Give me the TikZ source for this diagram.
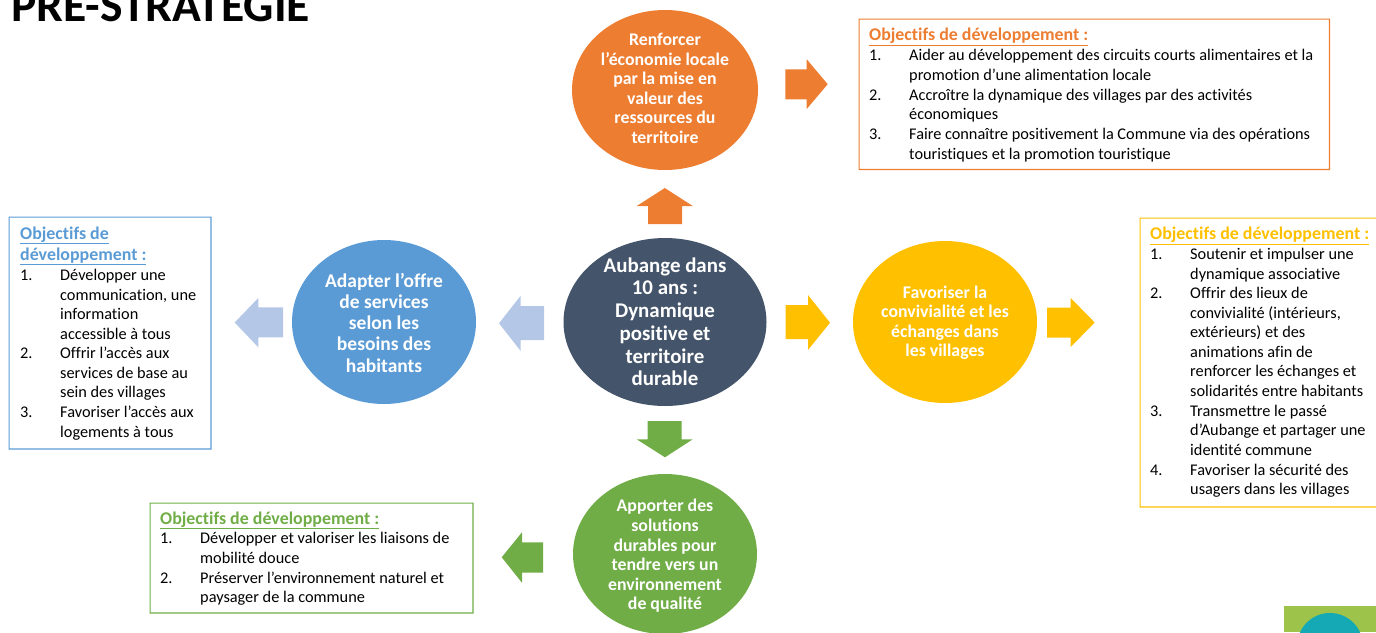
\documentclass[tikz,border=0pt]{standalone}
\usepackage{fontspec}
\setmainfont{Carlito}[Ligatures=NoCommon]
\definecolor{cOrange}{RGB}{237,125,49}
\definecolor{cBlue}{RGB}{91,155,213}
\definecolor{cLight}{HTML}{B4C7E7}
\definecolor{cYellow}{HTML}{FFC000}
\definecolor{cGreen}{HTML}{70AD47}
\definecolor{cDark}{HTML}{44546A}
\definecolor{cLogoG}{HTML}{9DC34A}
\definecolor{cLogoT}{HTML}{14A9B5}
\newcommand{\bodyfont}{\fontsize{16.3}{19.6}\selectfont}
\newcommand{\headfont}{\fontsize{17.9}{21}\selectfont\bfseries}
\newcommand{\ml}[1]{\begin{tabular}[t]{@{}l@{}}#1\end{tabular}}
\newcommand{\mc}[1]{\begin{tabular}{@{}c@{}}#1\end{tabular}}
\tikzset{
  x=1pt,y=-1pt,
  disc/.style={ellipse,inner sep=0pt},
  disctext/.style={inner sep=0pt,text=white,font=\fontsize{17.8}{19.6}\selectfont\bfseries},
  objframe/.style={fill=#1,even odd rule},
  objhead/.style={anchor=base west,inner sep=0pt,text=#1,font=\headfont},
  numlab/.style={anchor=base west,inner sep=0pt,font=\bodyfont},
  itemtext/.style={anchor=base west,inner sep=0pt,font=\bodyfont},
}
\usetikzlibrary{shapes.geometric}
\begin{document}
\begin{tikzpicture}
\useasboundingbox (0,0) rectangle (1376,632);
\clip (0,0) rectangle (1376,632);
\node[anchor=base west,inner sep=0pt,font=\fontsize{47.6}{48}\selectfont\bfseries] (title) at (11,21) {PRE-STRATEGIE};

% discs
\node[disc,fill=cOrange,minimum width=186pt,minimum height=160pt] (top) at (665,90) {};
\node[disctext] (topT) at (665,90.5) {\mc{Renforcer\\l’économie locale\\par la mise en\\valeur des\\ressources du\\territoire}};
\node[disc,fill=cDark,minimum width=203pt,minimum height=168pt] (center) at (665,322) {};
\node[disctext,font=\fontsize{20.9}{22.7}\selectfont\bfseries] (centerT) at (665,324.5) {\mc{Aubange dans\\10 ans :\\Dynamique\\positive et\\territoire\\durable}};
\node[disc,fill=cBlue,minimum width=184pt,minimum height=164pt] (left) at (384,322) {};
\node[disctext,font=\fontsize{19.5}{21.2}\selectfont\bfseries] (leftT) at (384,325.5) {\mc{Adapter l’offre\\de services\\selon les\\besoins des\\habitants}};
\node[disc,fill=cYellow,minimum width=184pt,minimum height=162pt] (right) at (945,322) {};
\node[disctext] (rightT) at (945,323.5) {\mc{Favoriser la\\convivialité et les\\échanges dans\\les villages}};
\node[disc,fill=cGreen,minimum width=184pt,minimum height=160pt] (bottom) at (665,554) {};
\node[disctext] (bottomT) at (665,557) {\mc{Apporter des\\solutions\\durables pour\\tendre vers un\\environnement\\de qualité}};

% block arrows
\fill[cOrange] (664.8,188) -- (692.7,206) -- (682,206) -- (682,224) -- (648,224) -- (648,206) -- (636.8,206) -- cycle;
\fill[cOrange] (827.7,84.2) -- (806.7,109) -- (806.7,99.3) -- (785.3,99.3) -- (785.3,69.3) -- (806.7,69.3) -- (806.7,59.3) -- cycle;
\fill[cLight] (499,323.3) -- (520.7,295.7) -- (520.7,306) -- (544,306) -- (544,340) -- (520.7,340) -- (520.7,351) -- cycle;
\fill[cLight] (234.7,322.5) -- (258.3,298) -- (258.3,307.3) -- (283,307.3) -- (283,337.3) -- (258.3,337.3) -- (258.3,347.3) -- cycle;
\fill[cYellow] (830,322.7) -- (808,295) -- (808,305) -- (785.7,305) -- (785.7,339) -- (808,339) -- (808,350) -- cycle;
\fill[cYellow] (1094.7,322.5) -- (1070.7,298) -- (1070.7,307.5) -- (1047,307.5) -- (1047,337.5) -- (1070.7,337.5) -- (1070.7,347) -- cycle;
\fill[cGreen] (665,457.3) -- (636.7,439.3) -- (647.7,439.3) -- (647.7,421) -- (681.7,421) -- (681.7,439.3) -- (692.7,439.3) -- cycle;
\fill[cGreen] (501.7,557.3) -- (522,532.3) -- (522,542.3) -- (543,542.3) -- (543,572.7) -- (522,572.7) -- (522,582.7) -- cycle;

% orange objectives
\path[objframe=cOrange] (858.5,18.5) rectangle (1330,170) (859.7,19.7) rectangle (1328.8,168.8);
\node[objhead=cOrange] (hO) at (869,40.5) {\underline{Objectifs de développement :}};
\node[numlab] (nO1) at (869,60.5) {1.};
\node[itemtext] (tO1) at (909,60.5) {\ml{Aider au développement des circuits courts alimentaires et la\\promotion d’une alimentation locale}};
\node[numlab] (nO2) at (869,100) {2.};
\node[itemtext] (tO2) at (909,100) {\ml{Accroître la dynamique des villages par des activités\\économiques}};
\node[numlab] (nO3) at (869,139.5) {3.};
\node[itemtext] (tO3) at (909,139.5) {\ml{Faire connaître positivement la Commune via des opérations\\touristiques et la promotion touristique}};

% blue objectives
\path[objframe=cBlue] (8.5,216.5) rectangle (211.5,449.5) (9.7,217.7) rectangle (210.3,448.3);
\node[objhead=cBlue] (hB) at (20,239) {\ml{\underline{Objectifs de}\\\underline{développement :}}};
\node[numlab] (nB1) at (20,280.5) {1.};
\node[itemtext] (tB1) at (60,280.5) {\ml{Développer une\\communication, une\\information\\accessible à tous}};
\node[numlab] (nB2) at (20,358.5) {2.};
\node[itemtext] (tB2) at (60,358.5) {\ml{Offrir l’accès aux\\services de base au\\sein des villages}};
\node[numlab] (nB3) at (20,417.5) {3.};
\node[itemtext] (tB3) at (60,417.5) {\ml{Favoriser l’accès aux\\logements à tous}};

% yellow objectives
\path[objframe=cYellow] (1139.5,217.5) rectangle (1380,507.5) (1140.7,218.7) rectangle (1378,506.3);
\node[objhead=cYellow] (hY) at (1150,239.5) {\underline{Objectifs de développement :}};
\node[numlab] (nY1) at (1150,259.5) {1.};
\node[itemtext] (tY1) at (1190,259.5) {\ml{Soutenir et impulser une\\dynamique associative}};
\node[numlab] (nY2) at (1150,298.5) {2.};
\node[itemtext] (tY2) at (1190,298.5) {\ml{Offrir des lieux de\\convivialité (intérieurs,\\extérieurs) et des\\animations afin de\\renforcer les échanges et\\solidarités entre habitants}};
\node[numlab] (nY3) at (1150,416) {3.};
\node[itemtext] (tY3) at (1190,416) {\ml{Transmettre le passé\\d’Aubange et partager une\\identité commune}};
\node[numlab] (nY4) at (1150,475) {4.};
\node[itemtext] (tY4) at (1190,475) {\ml{Favoriser la sécurité des\\usagers dans les villages}};

% green objectives
\path[objframe=cGreen] (149.5,502.5) rectangle (473.5,613.5) (150.7,503.7) rectangle (472.3,612.3);
\node[objhead=cGreen] (hG) at (160,524) {\underline{Objectifs de développement :}};
\node[numlab] (nG1) at (160,543.5) {1.};
\node[itemtext] (tG1) at (200,543.5) {\ml{Développer et valoriser les liaisons de\\mobilité douce}};
\node[numlab] (nG2) at (160,583) {2.};
\node[itemtext] (tG2) at (200,583) {\ml{Préserver l’environnement naturel et\\paysager de la commune}};

% logo
\fill[cLogoG] (1284,606) rectangle (1376,632);
\fill[cLogoT] (1330,646) circle[radius=33];
\end{tikzpicture}
\end{document}
